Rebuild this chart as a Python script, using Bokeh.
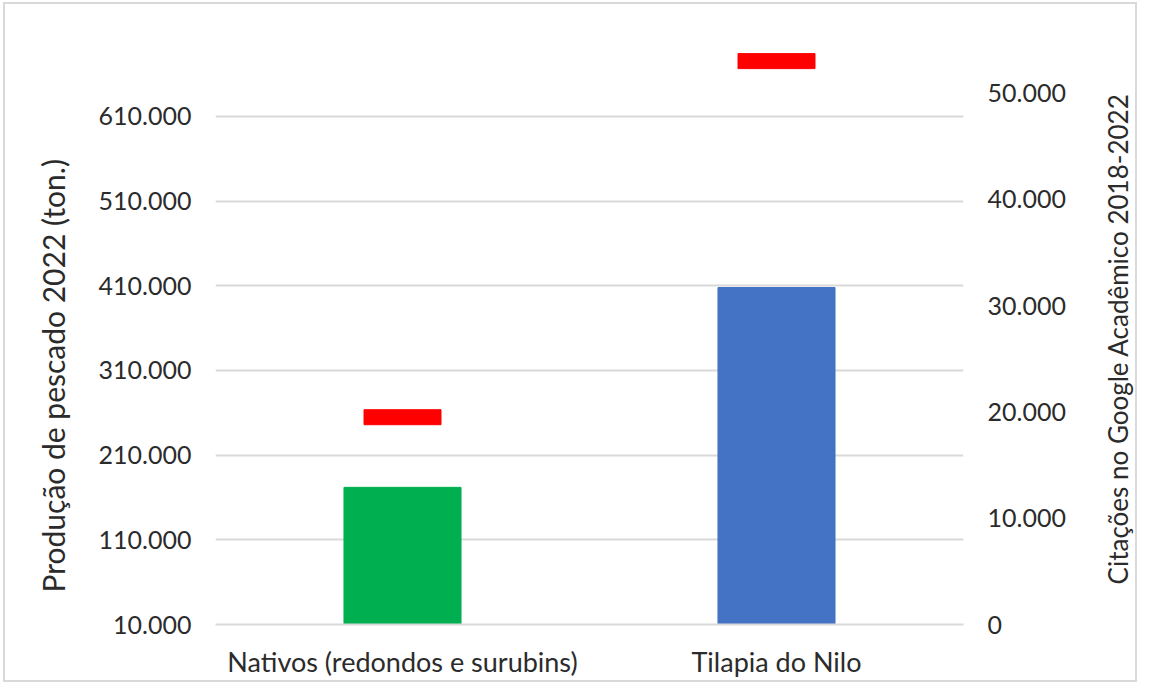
import math
from bokeh.plotting import figure
from bokeh.layouts import row
from bokeh.models import FactorRange, Range1d, LinearAxis, FixedTicker, ColumnDataSource, Title
from bokeh.core.properties import value
from bokeh.embed import file_html
from bokeh.resources import INLINE

# ---- data ----
categories = ["Nativos (redondos e surubins)", "Tilapia do Nilo"]
producao = [172000, 408000]          # toneladas 2022 (left axis)
citacoes = [19500, 53000]            # citações Google Acadêmico 2018-2022 (right axis)
bar_colors = ["#00B050", "#4472C4"]

left_ticks = [10000, 110000, 210000, 310000, 410000, 510000, 610000]
left_labels = ["10.000", "110.000", "210.000", "310.000", "410.000", "510.000", "610.000"]
right_ticks = [0, 10000, 20000, 30000, 40000, 50000]
right_labels = ["0", "10.000", "20.000", "30.000", "40.000", "50.000"]
left_title = "Produção de pescado 2022 (ton.)"
right_title = "Citações no Google Acadêmico 2018-2022"

FONT = "Lato"
TXT = "#2b2b2b"
H = 676

src = ColumnDataSource(dict(cat=categories, prod=producao, cit=citacoes, color=bar_colors))

p = figure(
    x_range=FactorRange(*categories, range_padding=0),
    y_range=Range1d(10000, 711550),
    width=1095, height=H,
    output_backend="svg", toolbar_location=None,
    min_border_left=210, min_border_right=137,
    min_border_top=26, min_border_bottom=56,
)
p.extra_y_ranges = {"right": Range1d(0, 55880)}

p.vbar(x="cat", top="prod", bottom=10000, width=0.313, color="color", source=src)
p.rect(x="cat", y="cit", width=77, height=15, width_units="screen", height_units="screen",
       color="#FF0000", y_range_name="right", source=src)

p.outline_line_color = None
p.xgrid.visible = False
p.ygrid.ticker = FixedTicker(ticks=left_ticks)
p.ygrid.grid_line_color = "#d9d9d9"
p.ygrid.grid_line_width = 2

# left axis
ya = p.yaxis[0]
ya.ticker = FixedTicker(ticks=left_ticks)
ya.major_label_overrides = dict(zip(left_ticks, left_labels))

# right axis
ra = LinearAxis(y_range_name="right")
ra.ticker = FixedTicker(ticks=right_ticks)
ra.major_label_overrides = dict(zip(right_ticks, right_labels))
p.add_layout(ra, "right")

for ax in (ya, ra):
    ax.axis_line_color = None
    ax.major_tick_line_color = None
    ax.minor_tick_line_color = None
    ax.major_label_text_font = FONT
    ax.major_label_text_font_size = "25px"
    ax.major_label_text_color = TXT
    ax.major_label_standoff = 18

# left axis title, placed as in the reference (starting near the bottom)
p.add_layout(Title(text=left_title, align="left", offset=32, vertical_align="bottom",
                   standoff=50, text_font=FONT, text_font_size="30px",
                   text_font_style="normal", text_color=TXT), "left")

xa = p.xaxis[0]
xa.axis_line_color = "#d9d9d9"
xa.axis_line_width = 2
xa.major_tick_line_color = None
xa.minor_tick_line_color = None
xa.major_label_text_font = FONT
xa.major_label_text_font_size = "27px"
xa.major_label_text_color = TXT
xa.major_label_standoff = 14

# right axis title (reads bottom-to-top, as in the reference) in a narrow strip
q = figure(width=35, height=H, x_range=Range1d(0, 35), y_range=Range1d(0, H),
           output_backend="svg", toolbar_location=None,
           min_border_left=0, min_border_right=0, min_border_top=0, min_border_bottom=0)
q.axis.visible = False
q.grid.visible = False
q.outline_line_color = None
q.text(x=[17.5], y=[H - 351], text=[right_title], angle=math.pi / 2,
       text_align="center", text_baseline="middle",
       text_font=value(FONT), text_font_size="26px", text_color=TXT)

layout = row(p, q, spacing=0)
layout.styles = {"border": "2px solid #d9d9d9", "margin-left": "3px", "margin-top": "2px"}

open("out.html", "w").write(file_html(layout, INLINE))
